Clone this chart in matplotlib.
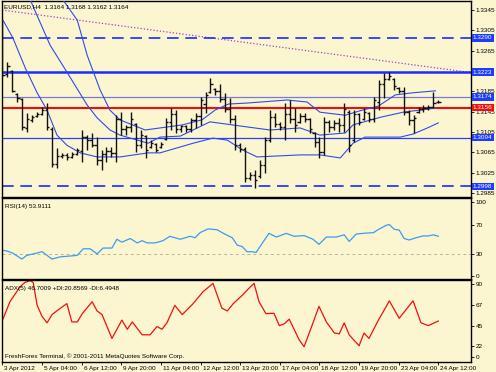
import numpy as np
import matplotlib
matplotlib.use('Agg')
import matplotlib.pyplot as plt
from matplotlib import transforms

# EURUSD H4 bars, 3 Apr 20:00 .. 24 Apr 12:00
bar_high = [1.3325, 1.3243, 1.3227, 1.3182, 1.3172, 1.3142, 1.3138, 1.3144, 1.3154, 1.3162,
            1.3115, 1.3074, 1.3064, 1.3064, 1.3066, 1.3074, 1.3109, 1.3099, 1.3103, 1.3095,
            1.3070, 1.3076, 1.3076, 1.3138, 1.3144, 1.3119, 1.3144, 1.3123, 1.3109, 1.3099,
            1.3089, 1.3083, 1.3085, 1.3133, 1.3152, 1.3148, 1.3119, 1.3119, 1.3133, 1.3142,
            1.3174, 1.3184, 1.3211, 1.3192, 1.3199, 1.3182, 1.3172, 1.3138, 1.3083, 1.3076,
            1.3026, 1.3030, 1.3050, 1.3095, 1.3148, 1.3142, 1.3125, 1.3162, 1.3168, 1.3152,
            1.3142, 1.3142, 1.3133, 1.3105, 1.3095, 1.3134, 1.3129, 1.3129, 1.3133, 1.3162,
            1.3148, 1.3148, 1.3142, 1.3152, 1.3144, 1.3174, 1.3207, 1.3221, 1.3223, 1.3211,
            1.3194, 1.3194, 1.3148, 1.3138, 1.3154, 1.3158, 1.3158, 1.3184, 1.3168]
bar_low = [1.3213, 1.3213, 1.3184, 1.3164, 1.3109, 1.3105, 1.3125, 1.3134, 1.3138, 1.3109,
           1.3036, 1.3034, 1.3054, 1.3050, 1.3054, 1.3060, 1.3046, 1.3070, 1.3076, 1.3040,
           1.3030, 1.3046, 1.3056, 1.3046, 1.3099, 1.3099, 1.3105, 1.3066, 1.3074, 1.3054,
           1.3074, 1.3066, 1.3074, 1.3090, 1.3109, 1.3103, 1.3105, 1.3105, 1.3105, 1.3113,
           1.3119, 1.3142, 1.3182, 1.3178, 1.3164, 1.3144, 1.3123, 1.3070, 1.3066, 1.3007,
           1.3011, 1.2995, 1.3015, 1.3024, 1.3085, 1.3115, 1.3109, 1.3089, 1.3123, 1.3105,
           1.3123, 1.3125, 1.3103, 1.3076, 1.3054, 1.3060, 1.3105, 1.3109, 1.3105, 1.3105,
           1.3066, 1.3085, 1.3119, 1.3129, 1.3125, 1.3125, 1.3148, 1.3172, 1.3207, 1.3188,
           1.3182, 1.3138, 1.3119, 1.3103, 1.3142, 1.3144, 1.3148, 1.3152, 1.3162]
bar_open = [1.3315, 1.3220, 1.3225, 1.3180, 1.3170, 1.3112, 1.3128, 1.3136, 1.3140, 1.3148,
            1.3110, 1.3042, 1.3058, 1.3060, 1.3056, 1.3062, 1.3068, 1.3095, 1.3090, 1.3080,
            1.3050, 1.3062, 1.3068, 1.3064, 1.3130, 1.3110, 1.3114, 1.3120, 1.3080, 1.3098,
            1.3076, 1.3082, 1.3076, 1.3092, 1.3125, 1.3140, 1.3110, 1.3116, 1.3110, 1.3128,
            1.3136, 1.3160, 1.3184, 1.3190, 1.3186, 1.3170, 1.3150, 1.3130, 1.3080, 1.3072,
            1.3015, 1.3020, 1.3018, 1.3040, 1.3090, 1.3135, 1.3120, 1.3115, 1.3140, 1.3130,
            1.3125, 1.3136, 1.3130, 1.3104, 1.3085, 1.3065, 1.3125, 1.3115, 1.3122, 1.3118,
            1.3145, 1.3090, 1.3140, 1.3130, 1.3142, 1.3130, 1.3165, 1.3200, 1.3210, 1.3210,
            1.3192, 1.3186, 1.3145, 1.3128, 1.3145, 1.3150, 1.3152, 1.3155, 1.3164]
bar_close = [1.3217, 1.3235, 1.3186, 1.3172, 1.3115, 1.3130, 1.3134, 1.3140, 1.3148, 1.3115,
             1.3042, 1.3058, 1.3060, 1.3056, 1.3062, 1.3070, 1.3095, 1.3090, 1.3080, 1.3050,
             1.3062, 1.3068, 1.3064, 1.3130, 1.3110, 1.3114, 1.3130, 1.3080, 1.3100, 1.3070,
             1.3084, 1.3070, 1.3082, 1.3125, 1.3140, 1.3110, 1.3116, 1.3110, 1.3128, 1.3136,
             1.3168, 1.3178, 1.3200, 1.3186, 1.3170, 1.3150, 1.3130, 1.3080, 1.3072, 1.3015,
             1.3020, 1.3010, 1.3040, 1.3090, 1.3135, 1.3120, 1.3115, 1.3140, 1.3130, 1.3118,
             1.3136, 1.3130, 1.3110, 1.3085, 1.3065, 1.3125, 1.3115, 1.3122, 1.3118, 1.3150,
             1.3080, 1.3140, 1.3125, 1.3145, 1.3130, 1.3168, 1.3200, 1.3210, 1.3215, 1.3195,
             1.3186, 1.3145, 1.3128, 1.3132, 1.3150, 1.3152, 1.3155, 1.3162, 1.3164]

# Bollinger bands (bar position, price)
bb_up_x = [10, 12.2, 15.1, 17.1, 19.7, 21.7, 23.7, 28.8, 31.8, 36.3, 40.3, 42.9, 45.6, 49.4,
           57.5, 61.5, 64.1, 69.2, 72.6, 75.9, 79.3, 82.7, 87.4]
bb_up_y = [1.3404, 1.3365, 1.3325, 1.3256, 1.3188, 1.3148, 1.3129, 1.3109, 1.3113, 1.3119,
           1.3129, 1.3148, 1.3160, 1.3162, 1.3168, 1.3164, 1.3144, 1.3138, 1.3148, 1.3156,
           1.3178, 1.3182, 1.3186]
bb_mid_x = [0, 5.6, 9.6, 13.0, 17.1, 19.1, 21.7, 23.7, 29.4, 31.8, 35.9, 41.9, 49.4, 54.0,
            60.1, 64.1, 69.2, 70.8, 76.3, 80.9, 87.4]
bb_mid_y = [1.3384, 1.3365, 1.3276, 1.3223, 1.3158, 1.3133, 1.3109, 1.3099, 1.3083, 1.3095,
            1.3097, 1.3125, 1.3115, 1.3109, 1.3113, 1.3099, 1.3103, 1.3119, 1.3134, 1.3144,
            1.3152]
bb_low_x = [0.1, 2.1, 4.6, 7.0, 9.0, 11.0, 13.0, 15.7, 19.1, 23.7, 29.4, 31.8, 38.5, 42.5,
            45.4, 48.4, 51.4, 60.1, 64.1, 68.2, 70.8, 73.2, 80.3, 82.9, 85.8, 88.0]
bb_low_y = [1.3325, 1.3290, 1.3231, 1.3182, 1.3148, 1.3099, 1.3079, 1.3064, 1.3056, 1.3056,
            1.3064, 1.3064, 1.3083, 1.3093, 1.3089, 1.3070, 1.3056, 1.3060, 1.3060, 1.3054,
            1.3083, 1.3095, 1.3095, 1.3101, 1.3113, 1.3123]

trend_x = [-0.1, 94.6]
trend_y = [1.3345, 1.3222]

blue_levels = [1.3223, 1.3094]
dashed_levels = [1.3290, 1.2998]
slate_level = 1.3174
bid_level = 1.3153
box_labels = [(1.3290, '1.3290'), (1.3223, '1.3223'), (1.3174, '1.3174'),
              (1.3094, '1.3094'), (1.2998, '1.2998')]
bid_label = '1.3156'

rsi_x = [0, 0.9, 2.1, 3.9, 4.9, 6.2, 8.0, 10.0, 11.6, 15.1, 16.3, 17.7, 19.1, 20.3, 22.1,
         23.1, 24.1, 25.8, 27.2, 28.2, 29.2, 30.8, 32.4, 33.8, 35.9, 37.9, 38.9, 39.9, 41.5,
         43.3, 44.9, 46.4, 47.4, 48.4, 49.4, 50.4, 51.2, 52.6, 53.8, 55.3, 57.3, 58.9, 60.9,
         62.7, 63.9, 65.4, 67.4, 69.0, 70.0, 71.4, 72.8, 74.9, 76.1, 77.5, 78.1, 79.1, 80.1,
         81.1, 82.1, 83.5, 84.9, 86.0, 87.0, 88.0]
rsi_val = [35, 34, 31, 23, 28, 30, 33, 23, 26, 28, 37, 37, 30, 38, 38,
           50, 46, 51, 45, 48, 45, 45, 48, 54, 50, 54, 52, 59, 64,
           63, 57, 52, 42, 40, 33, 33, 32, 46, 58, 53, 58, 54, 55,
           50, 43, 53, 53, 56, 47, 57, 58, 59, 64, 69, 70, 63.5, 62.5,
           51, 49, 52, 54.5, 54.5, 56, 54]

adx_x = [0, 1.5, 3.5, 4.5, 5.6, 6.2, 7.0, 8.0, 9.0, 10.0, 11.2, 13.0, 14.0, 15.1, 16.1,
         18.1, 19.1, 20.1, 22.1, 24.1, 25.2, 26.2, 28.2, 29.8, 31.2, 32.2, 33.2, 34.8, 36.3,
         38.5, 40.5, 42.5, 44.3, 45.4, 46.6, 48.4, 50.0, 50.8, 51.8, 53.2, 54.8, 55.9, 56.9,
         57.9, 59.9, 60.9, 62.7, 63.9, 65.4, 67.0, 68.0, 69.0, 70.0, 72.0, 73.0, 74.0, 75.9,
         77.5, 78.1, 80.1, 82.9, 84.5, 86.0, 88.0]
adx_val = [51, 71, 87, 92, 94, 92, 67, 55, 48, 57, 62, 69, 49, 49, 58,
           71, 61, 57, 31, 51, 41, 49, 35, 35, 44, 41, 48, 67, 57,
           69, 82, 91, 64, 61, 69, 78, 87, 91, 71, 58, 58.5, 45, 47,
           52, 29.5, 22, 48, 66, 49, 37, 36, 48, 35, 23, 37, 31, 51,
           66, 72, 53, 72, 48, 45, 50]

time_ticks = [0, 8, 16, 24, 32, 40, 48, 56, 64, 72, 80, 88]
time_labels = ['3 Apr 2012', '5 Apr 04:00', '6 Apr 12:00', '9 Apr 20:00', '11 Apr 04:00',
               '12 Apr 12:00', '13 Apr 20:00', '17 Apr 04:00', '18 Apr 12:00',
               '19 Apr 20:00', '23 Apr 04:00', '24 Apr 12:00']

price_ticks = [1.2985, 1.3025, 1.3065, 1.3105, 1.3145, 1.3185, 1.3225, 1.3265, 1.3305, 1.3345]

BG = '#fbf6d0'
FS = 4.6
plt.rcParams['font.family'] = ['Liberation Sans Narrow', 'Liberation Sans', 'DejaVu Sans']
plt.rcParams['font.size'] = FS


def px_axes(fig, x0, y0, x1, y1):
    W, H = 496.0, 372.0
    ax = fig.add_axes([x0 / W, 1 - y1 / H, (x1 - x0) / W, (y1 - y0) / H])
    ax.set_facecolor(BG)
    for s in ax.spines.values():
        s.set_color('black')
        s.set_linewidth(1.0)
    ax.yaxis.tick_right()
    ax.tick_params(axis='y', length=2, width=0.6, pad=1.2, labelsize=FS, colors='black')
    ax.set_xlim(-0.1, 94.6)
    return ax


fig = plt.figure(figsize=(4.96, 3.72), dpi=100)
fig.patch.set_facecolor(BG)

ax = px_axes(fig, 2, 1, 471, 197)
ax_rsi = px_axes(fig, 2, 198, 471, 279)
ax_adx = px_axes(fig, 2, 280, 471, 361.5)

# main price panel
idx = np.arange(len(bar_high))
ax.set_ylim(1.29772, 1.33627)
ax.plot(trend_x, trend_y, color='#a040d0', lw=0.9, ls=(0, (1, 1.6)), zorder=2)
for lv in dashed_levels:
    ax.axhline(lv, color='#1a2cff', lw=1.2, ls=(0, (7, 4)), zorder=2)
ax.axhline(blue_levels[0], color='#1a2cff', lw=1.8, zorder=2)
ax.axhline(blue_levels[1], color='#2a3cff', lw=0.9, zorder=2)
ax.axhline(slate_level, color='#7878e0', lw=0.9, zorder=2)
ax.axhline(bid_level + 0.00015, color='#e81010', lw=0.8, zorder=2)
ax.axhline(bid_level - 0.00015, color='#e81010', lw=0.8, zorder=2)

ax.plot(bb_up_x, bb_up_y, color='#2f4af0', lw=0.8, zorder=3)
ax.plot(bb_mid_x, bb_mid_y, color='#2f4af0', lw=0.8, zorder=3)
ax.plot(bb_low_x, bb_low_y, color='#2f4af0', lw=0.8, zorder=3)

ax.vlines(idx, bar_low, bar_high, color='#111111', lw=1.0, zorder=4)
ax.hlines(bar_open, idx - 0.45, idx, color='#111111', lw=1.0, zorder=4)
ax.hlines(bar_close, idx, idx + 0.45, color='#111111', lw=1.0, zorder=4)

# labels hidden behind the level boxes are left blank
covered = [1.3225]
ax.set_yticks(price_ticks)
ax.set_yticklabels(['' if p in covered else '%.4f' % p for p in price_ticks])
ax.set_xticks(time_ticks)
ax.tick_params(axis='x', length=0, labelbottom=False)

tr = transforms.blended_transform_factory(ax.transAxes, ax.transData)
for p, s in box_labels:
    ax.text(1.004, p, s, transform=tr, ha='left', va='center', color='white', fontsize=FS,
            bbox=dict(boxstyle='square,pad=0.2', fc='#1e3cff', ec='none'), clip_on=False, zorder=10)
ax.text(1.004, bid_level, bid_label, transform=tr, ha='left', va='center', color='white',
        fontsize=FS, bbox=dict(boxstyle='square,pad=0.2', fc='#ee1010', ec='none'),
        clip_on=False, zorder=10)
ax.text(0.004, 0.985, 'EURUSD,H4  1.3164 1.3168 1.3162 1.3164', transform=ax.transAxes,
        ha='left', va='top', fontsize=FS, zorder=11)

# RSI panel
ax_rsi.set_ylim(-4.1, 106.1)
ax_rsi.axhline(30, color='#b8b4a0', lw=0.7, ls=(0, (3, 3)))
ax_rsi.plot(rsi_x, rsi_val, color='#3c9cf2', lw=0.9)
ax_rsi.set_yticks([0, 30, 70, 100])
ax_rsi.set_xticks(time_ticks)
ax_rsi.tick_params(axis='x', length=0, labelbottom=False)
ax_rsi.text(0.006, 0.93, 'RSI(14) 53.9111', transform=ax_rsi.transAxes, ha='left', va='top',
            fontsize=FS)

# ADX panel
ax_adx.set_ylim(5.9, 94.7)
ax_adx.plot(adx_x, adx_val, color='#f01010', lw=0.9)
ax_adx.set_yticks([11.3, 22.5, 45, 67.5, 90])
ax_adx.set_yticklabels(['0', '22', '45', '67', '90'])
ax_adx.text(0.006, 0.93, 'ADX(5) 46.7009 +DI:20.8569 -DI:6.4948', transform=ax_adx.transAxes,
            ha='left', va='top', fontsize=FS)
ax_adx.text(0.006, 0.03, 'FreshForex Terminal, \u00a9 2001-2011 MetaQuotes Software Corp.',
            transform=ax_adx.transAxes, ha='left', va='bottom', fontsize=FS)
ax_adx.set_xticks(time_ticks)
ax_adx.set_xticklabels(time_labels)
ax_adx.tick_params(axis='x', length=2.5, width=0.6, pad=1, labelsize=FS, direction='out')
shift = transforms.ScaledTranslation(2 / 100, 0, fig.dpi_scale_trans)
for lab in ax_adx.get_xticklabels():
    lab.set_horizontalalignment('left')
    lab.set_transform(lab.get_transform() + shift)

fig.savefig('out.png', dpi=100, facecolor=BG)
